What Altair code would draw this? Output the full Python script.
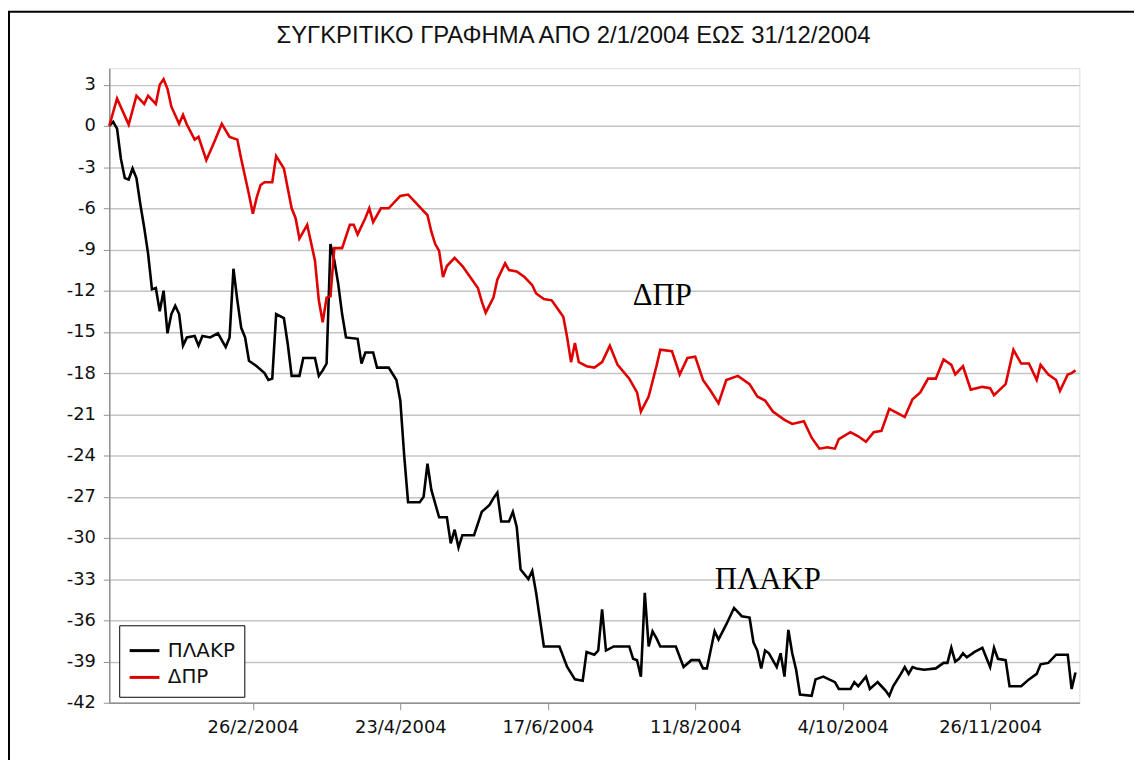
import altair as alt
import pandas as pd

# ---------------- data ----------------
TITLE = "ΣΥΓΚΡΙΤΙΚΟ ΓΡΑΦΗΜΑ ΑΠΟ 2/1/2004 ΕΩΣ 31/12/2004"
SERIES = ["ΠΛΑΚΡ", "ΔΠΡ"]
COLORS = ["#000000", "#e00000"]

# trading-day index, cumulative % change
plakr_days = [0, 1, 2, 3, 4, 5, 6, 7, 8, 9, 10, 11, 12, 13, 14, 15, 16, 17, 18, 19,
              20, 22, 23, 24, 26, 28, 30, 31, 32, 33, 34, 35, 36, 38, 40, 41, 42, 43, 45, 46,
              47, 49, 50, 53, 54, 55, 56, 57, 58, 59, 60, 61, 64, 65, 66, 68, 69, 72, 74, 75,
              76, 77, 80, 81, 82, 83, 85, 87, 88, 89, 90, 91, 94, 96, 98, 99, 100, 101, 103, 104,
              105, 106, 108, 109, 110, 112, 116, 118, 120, 122, 123, 125, 126, 127, 128, 130, 134, 135, 136, 137,
              138, 139, 140, 141, 142, 146, 148, 150, 152, 153, 154, 156, 157, 159, 161, 163, 165, 166, 167, 168,
              169, 170, 172, 173, 174, 175, 176, 177, 178, 181, 182, 184, 187, 188, 191, 192, 193, 195, 196, 198,
              199, 200, 201, 202, 204, 205, 206, 207, 208, 210, 213, 215, 216, 217, 218, 219, 220, 221, 223, 225,
              226, 227, 228, 229, 231, 232, 235, 237, 239, 240, 242, 244, 247, 248, 249]
plakr_values = [0.0, 0.3, -0.2, -2.4, -3.8, -3.9, -3.1, -3.8, -5.7, -7.4, -9.3, -11.9, -11.8, -13.5, -12.0, -15.1, -13.7, -13.1, -13.7, -16.0,
                -15.4, -15.3, -16.0, -15.3, -15.4, -15.1, -16.1, -15.4, -10.4, -12.7, -14.7, -15.4, -17.1, -17.5, -18.0, -18.5, -18.4, -13.7, -14.0, -15.9,
                -18.2, -18.2, -16.9, -16.9, -18.2, -17.8, -17.3, -8.6, -9.8, -11.5, -13.7, -15.4, -15.5, -17.3, -16.5, -16.5, -17.6, -17.6, -18.5, -20.0,
                -24.0, -27.4, -27.4, -27.0, -24.6, -26.5, -28.5, -28.5, -30.4, -29.4, -30.7, -29.8, -29.8, -28.1, -27.6, -27.1, -26.7, -28.8, -28.8, -28.1,
                -29.2, -32.3, -33.0, -32.4, -34.0, -37.9, -37.9, -39.4, -40.3, -40.4, -38.3, -38.5, -38.2, -35.2, -38.2, -37.9, -37.9, -38.8, -38.9, -40.1,
                -34.0, -37.9, -36.8, -37.3, -37.9, -37.9, -39.4, -38.9, -38.9, -39.5, -39.5, -36.8, -37.4, -36.3, -35.1, -35.7, -35.8, -37.6, -38.2, -39.5,
                -38.2, -38.4, -39.4, -38.4, -40.1, -36.7, -38.4, -39.6, -41.4, -41.5, -40.3, -40.1, -40.5, -41.0, -41.0, -40.5, -40.8, -40.1, -41.0, -40.5,
                -40.8, -41.1, -41.5, -40.8, -39.9, -39.4, -39.9, -39.4, -39.5, -39.6, -39.5, -39.1, -39.1, -38.0, -39.0, -38.8, -38.4, -38.7, -38.3, -38.0,
                -38.7, -39.4, -38.0, -38.8, -38.9, -40.8, -40.8, -40.3, -39.9, -39.2, -39.1, -38.5, -38.5, -41.0, -39.8]

dpr_days = [0, 2, 5, 7, 9, 10, 12, 13, 14, 15, 16, 18, 19, 20, 22, 23, 25, 27, 29, 31,
            33, 34, 36, 37, 38, 39, 40, 42, 43, 45, 47, 48, 49, 51, 53, 54, 55, 56, 57, 58,
            60, 62, 63, 64, 66, 67, 68, 70, 72, 75, 77, 78, 81, 82, 83, 84, 85, 86, 87, 89,
            91, 93, 95, 96, 97, 99, 100, 102, 103, 105, 107, 109, 110, 112, 114, 115, 117, 118, 119, 120,
            121, 123, 125, 127, 129, 131, 134, 136, 137, 139, 141, 142, 145, 147, 149, 151, 153, 155, 157, 159,
            162, 165, 167, 169, 171, 174, 176, 179, 181, 183, 185, 187, 188, 191, 193, 195, 197, 199, 201, 203,
            205, 207, 209, 211, 213, 215, 217, 218, 220, 222, 225, 227, 228, 231, 233, 235, 237, 239, 240, 242,
            244, 245, 247, 248, 249]
dpr_values = [0.0, 2.0, 0.1, 2.2, 1.6, 2.2, 1.6, 3.0, 3.4, 2.7, 1.4, 0.15, 0.8, 0.1, -1.0, -0.8, -2.5, -1.2, 0.15, -0.8,
              -1.0, -2.4, -5.0, -6.4, -5.2, -4.3, -4.1, -4.1, -2.2, -3.1, -6.0, -6.7, -8.2, -7.2, -9.8, -12.7, -14.3, -12.5, -12.4, -8.9,
              -8.9, -7.2, -7.2, -7.9, -6.7, -6.0, -7.0, -6.0, -6.0, -5.1, -5.0, -5.3, -6.2, -6.5, -7.7, -8.6, -9.1, -11.0, -10.2, -9.6,
              -10.2, -11.0, -11.8, -12.8, -13.6, -12.5, -11.2, -10.0, -10.5, -10.6, -11.0, -11.6, -12.2, -12.6, -12.7, -13.1, -13.9, -15.4, -17.2, -15.8,
              -17.2, -17.5, -17.6, -17.2, -16.0, -17.4, -18.4, -19.4, -20.8, -19.7, -17.5, -16.3, -16.4, -18.1, -16.9, -16.8, -18.5, -19.3, -20.2, -18.5,
              -18.2, -18.8, -19.7, -20.0, -20.8, -21.4, -21.7, -21.5, -22.7, -23.5, -23.4, -23.5, -22.8, -22.3, -22.6, -23.0, -22.3, -22.2, -20.6, -20.9,
              -21.2, -19.9, -19.4, -18.4, -18.4, -17.0, -17.4, -18.1, -17.5, -19.2, -19.0, -19.1, -19.6, -18.8, -16.3, -17.3, -17.3, -18.5, -17.4, -18.1,
              -18.5, -19.3, -18.1, -18.0, -17.8]

# axis ticks
y_ticks = [3, 0, -3, -6, -9, -12, -15, -18, -21, -24, -27, -30, -33, -36, -39, -42]
x_tick_days = [37, 75, 113, 151, 189, 227]
x_tick_labels = ["26/2/2004", "23/4/2004", "17/6/2004", "11/8/2004", "4/10/2004", "26/11/2004"]

# in-chart series labels
ann_labels = ["ΔΠΡ", "ΠΛΑΚΡ"]
ann_days = [142.5, 169.7]
ann_values = [-12.4, -33.1]

# ---------------- build ----------------
df = pd.concat([
    pd.DataFrame({"day": plakr_days, "value": plakr_values, "series": SERIES[0]}),
    pd.DataFrame({"day": dpr_days, "value": dpr_values, "series": SERIES[1]}),
], ignore_index=True)
ann = pd.DataFrame({"label": ann_labels, "day": ann_days, "value": ann_values})

label_expr = ""
for d, l in zip(x_tick_days, x_tick_labels):
    label_expr += f"datum.value == {d} ? '{l}' : "
label_expr += "''"

W, H = 977, 639
xs = alt.Scale(domain=[0, 250], nice=False, zero=False)
ys = alt.Scale(domain=[-42, 4.2], nice=False, zero=False)

lines = alt.Chart(df).mark_line(strokeWidth=2.6, strokeJoin="miter").encode(
    x=alt.X("day:Q", scale=xs, axis=alt.Axis(
        values=x_tick_days, labelExpr=label_expr, title=None, grid=False,
        tickSize=7, tickColor="#909090", domainColor="#909090", domainWidth=1.5,
        labelFont="DejaVu Sans", labelFontSize=18, labelColor="#111111", labelPadding=9,
        labelFlush=False, labelOverlap=False)),
    y=alt.Y("value:Q", scale=ys, axis=alt.Axis(
        values=y_ticks, title=None, grid=True, gridColor="#c4c4c4", gridWidth=1.5,
        tickSize=6, tickColor="#909090", domainColor="#909090", domainWidth=1.5,
        labelFont="DejaVu Sans", labelFontSize=18, labelColor="#111111", labelPadding=8,
        labelOverlap=False, labelExpr="'' + datum.value")),
    color=alt.Color("series:N", sort=SERIES,
                    scale=alt.Scale(domain=SERIES, range=COLORS),
                    legend=alt.Legend(orient="none", legendX=10, legendY=561, title=None,
                                      strokeColor="black", fillColor="white", padding=9,
                                      symbolType="stroke", symbolSize=900, symbolStrokeWidth=3,
                                      labelFont="DejaVu Sans", labelFontSize=20, labelColor="#111111",
                                      labelOffset=7, rowPadding=-2, cornerRadius=0)),
    order=alt.Order("day:Q"),
)

labels = alt.Chart(ann).mark_text(font="Liberation Serif", fontSize=31, color="black",
                                  align="center", baseline="middle").encode(
    x=alt.X("day:Q", scale=xs), y=alt.Y("value:Q", scale=ys), text="label:N")

frame = alt.Chart(alt.Data(values=[{"f": 1}])).mark_rect(
    fill="white", fillOpacity=0, stroke="black", strokeWidth=2).encode(
    x=alt.value(-101), x2=alt.value(1100), y=alt.value(-57), y2=alt.value(760))

chart = alt.layer(frame, lines, labels).properties(
    width=W, height=H,
    padding={"left": 102, "top": 58, "right": 55, "bottom": 55},
    autosize=alt.AutoSizeParams(type="none"),
    title=alt.TitleParams(TITLE, font="Liberation Sans", fontSize=24, fontWeight="normal",
                          color="#111111", anchor="middle", frame="group", dx=-21, offset=-38),
).configure_view(stroke="#b4b4b4", strokeWidth=1.5).configure(background="white")

chart.save("out.html", embed_options={"renderer": "svg", "actions": False})
